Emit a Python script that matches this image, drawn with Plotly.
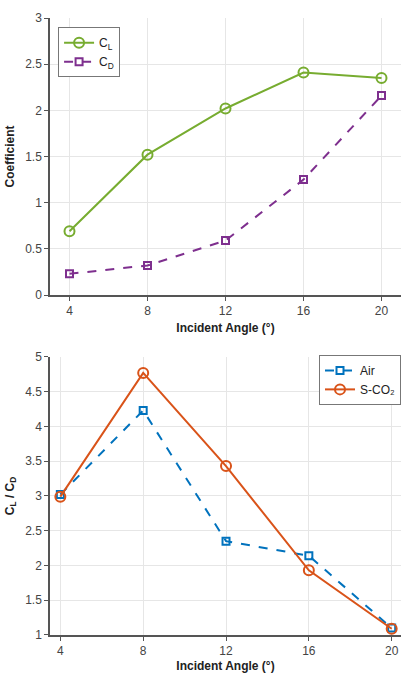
import plotly.graph_objects as go

angles = [4, 8, 12, 16, 20]
cl = [0.69, 1.52, 2.02, 2.41, 2.35]
cd = [0.23, 0.32, 0.59, 1.25, 2.16]
ratio_air = [3.02, 4.23, 2.35, 2.14, 1.10]
ratio_sco2 = [2.99, 4.77, 3.43, 1.93, 1.09]

x_ticks = [4, 8, 12, 16, 20]
green = "#77AC30"
purple = "#7E2F8E"
blue = "#0072BD"
orange = "#D95319"

fig = go.Figure()
fig.add_trace(go.Scatter(x=angles, y=cl, name="C<sub>L</sub>", mode="lines+markers",
                         line=dict(color=green, width=2),
                         marker=dict(symbol="circle-open", size=10, color=green, line=dict(width=2)),
                         xaxis="x", yaxis="y", legend="legend"))
fig.add_trace(go.Scatter(x=angles, y=cd, name="C<sub>D</sub>", mode="lines+markers",
                         line=dict(color=purple, width=2, dash="dash"),
                         marker=dict(symbol="square-open", size=7, color=purple, line=dict(width=2)),
                         xaxis="x", yaxis="y", legend="legend"))
fig.add_trace(go.Scatter(x=angles, y=ratio_air, name="Air", mode="lines+markers",
                         line=dict(color=blue, width=2, dash="dash"),
                         marker=dict(symbol="square-open", size=7, color=blue, line=dict(width=2)),
                         xaxis="x2", yaxis="y2", legend="legend2"))
fig.add_trace(go.Scatter(x=angles, y=ratio_sco2, name="S-CO₂", mode="lines+markers",
                         line=dict(color=orange, width=2),
                         marker=dict(symbol="circle-open", size=10, color=orange, line=dict(width=2)),
                         xaxis="x2", yaxis="y2", legend="legend2"))

tickfont = dict(family="Liberation Sans, Arial, sans-serif", size=12, color="#444444")
titlefont = dict(family="Liberation Sans, Arial, sans-serif", size=12, color="#222222")
common_axis = dict(showgrid=True, gridcolor="#e6e6e6", gridwidth=1, zeroline=False,
                   showline=True, linecolor="#555555", linewidth=1.5,
                   ticks="outside", ticklen=4, tickcolor="#555555", tickfont=tickfont)

fig.update_layout(
    width=401, height=673,
    margin=dict(l=50, r=0, t=18, b=36),
    paper_bgcolor="white", plot_bgcolor="white",
    xaxis=dict(range=[3, 21], tickvals=x_ticks, domain=[0, 1], anchor="y",
               title=dict(text="<b>Incident Angle (°)</b>", font=titlefont, standoff=6), **common_axis),
    yaxis=dict(range=[0, 3], dtick=0.5, domain=[0.551, 1.0], anchor="x",
               title=dict(text="<b>Coefficient</b>", font=titlefont, standoff=8), **common_axis),
    xaxis2=dict(range=[3.5, 20.45], tickvals=x_ticks, domain=[0, 1], anchor="y2",
                title=dict(text="<b>Incident Angle (°)</b>", font=titlefont, standoff=6), **common_axis),
    yaxis2=dict(range=[1, 5], dtick=0.5, domain=[0, 0.4507], anchor="x2",
                title=dict(text="<b>C<sub>L</sub> / C<sub>D</sub></b>", font=titlefont, standoff=8), **common_axis),
    legend=dict(x=0.023, y=0.985, xanchor="left", yanchor="top",
                bgcolor="white", bordercolor="#777777", borderwidth=1,
                font=dict(family="Liberation Sans, Arial, sans-serif", size=12, color="#222222"),
                itemwidth=30, tracegroupgap=0),
    legend2=dict(x=1.0, y=0.454, xanchor="right", yanchor="top",
                 bgcolor="white", bordercolor="#777777", borderwidth=1,
                 font=dict(family="Liberation Sans, Arial, sans-serif", size=12, color="#222222"),
                 itemwidth=30, tracegroupgap=0),
    showlegend=True,
)

fig.write_html("out.html",
               config={"displayModeBar": False},
               post_script="document.body.style.margin='0';document.body.style.padding='0';"
                           "document.body.style.overflow='hidden';"
                           "document.documentElement.style.overflow='hidden';")
